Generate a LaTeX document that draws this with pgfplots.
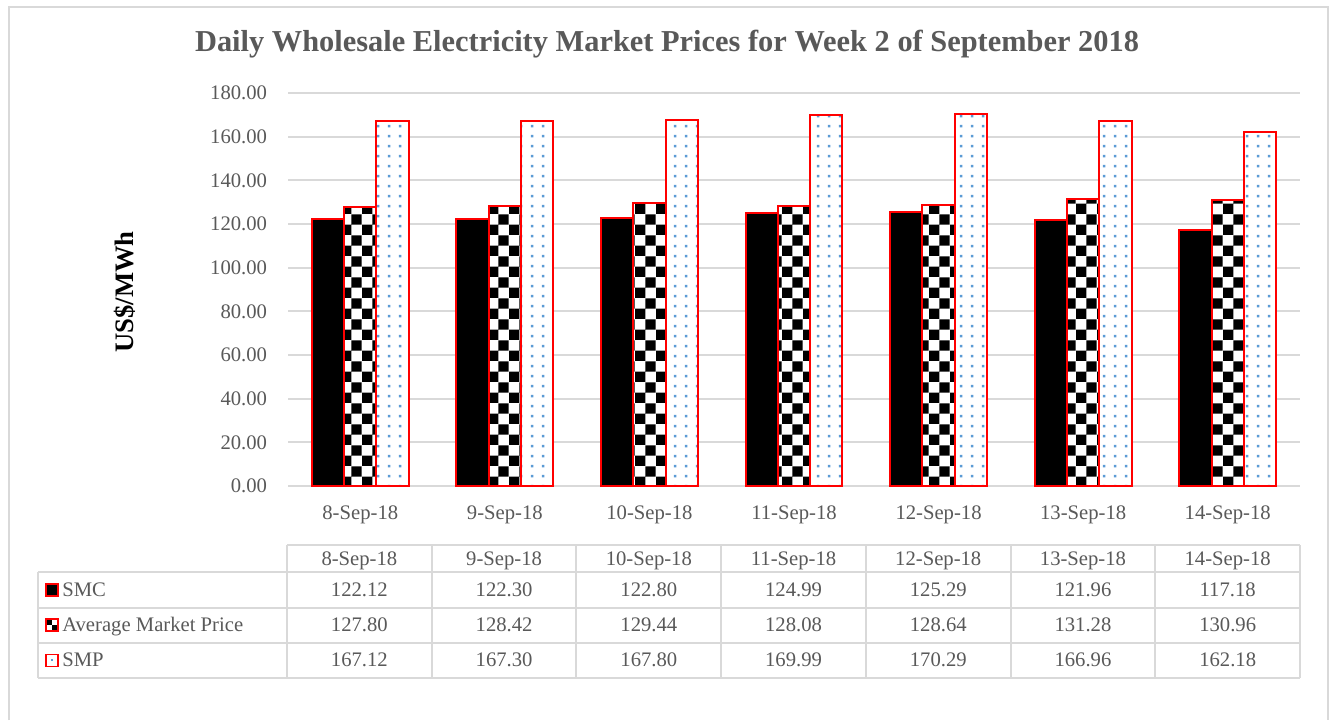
\documentclass[border=0pt]{standalone}
\usepackage{pgfplots}
\pgfplotsset{compat=1.18}
\usetikzlibrary{patterns}
\usepackage{fontspec}
\setmainfont{Liberation Serif}
\definecolor{txt}{HTML}{595959}
\definecolor{gridc}{HTML}{D9D9D9}
\definecolor{dotc}{HTML}{5B9BD5}
\pgfdeclarepatternformonly{checker}{\pgfqpoint{0pt}{0pt}}{\pgfqpoint{16pt}{16pt}}{\pgfqpoint{16pt}{16pt}}{%
 \pgfpathrectangle{\pgfqpoint{0pt}{0pt}}{\pgfqpoint{8pt}{8pt}}%
 \pgfpathrectangle{\pgfqpoint{8pt}{8pt}}{\pgfqpoint{8pt}{8pt}}%
 \pgfusepath{fill}}
\pgfdeclarepatternformonly{sdots}{\pgfqpoint{0pt}{0pt}}{\pgfqpoint{8pt}{7.5pt}}{\pgfqpoint{8pt}{7.5pt}}{%
 \pgfpathrectangle{\pgfqpoint{3pt}{3pt}}{\pgfqpoint{2pt}{2pt}}\pgfusepath{fill}}
\pgfdeclarepatternformonly{minichecker}{\pgfqpoint{0pt}{0pt}}{\pgfqpoint{8pt}{8pt}}{\pgfqpoint{8pt}{8pt}}{%
 \pgfpathrectangle{\pgfqpoint{0pt}{0pt}}{\pgfqpoint{4pt}{4pt}}%
 \pgfpathrectangle{\pgfqpoint{4pt}{4pt}}{\pgfqpoint{4pt}{4pt}}%
 \pgfusepath{fill}}
\begin{document}
\begin{tikzpicture}
\begin{scope}[x=0.75pt,y=-0.75pt]
\path[use as bounding box] (0,0) rectangle (1333,702);
\end{scope}
\begin{axis}[
  at={(216pt,-364.5pt)}, anchor=south west,
  scale only axis, width=759pt, height=294.75pt,
  xmin=-0.5, xmax=6.5, ymin=0, ymax=180,
  ybar=0pt, bar width=24.2pt,
  xtick={0,1,2,3,4,5,6},
  xticklabels={8-Sep-18,9-Sep-18,10-Sep-18,11-Sep-18,12-Sep-18,13-Sep-18,14-Sep-18},
  ytick={0,20,40,60,80,100,120,140,160,180},
  major tick length=0pt,
  axis line style={draw=none},
  ymajorgrids, major grid style={gridc, line width=1.5pt},
  yticklabel style={/pgf/number format/.cd, fixed, fixed zerofill, precision=2, assume math mode=true, /tikz/.cd,
     anchor=east, inner sep=0pt, xshift=-15.5pt, font=\fontsize{15.5}{18}\selectfont, text=txt},
  xticklabel style={anchor=base, inner sep=0pt, yshift=-24.75pt, font=\fontsize{15.5}{18}\selectfont, text=txt},
  clip=false,
]
\addplot[fill=black, draw=red, line width=1.5pt] coordinates
  {(0,122.12) (1,122.30) (2,122.80) (3,124.99) (4,125.29) (5,121.96) (6,117.18)};
\addplot[preaction={fill=white}, pattern=checker, pattern color=black, draw=red, line width=1.5pt] coordinates
  {(0,127.80) (1,128.42) (2,129.44) (3,128.08) (4,128.64) (5,131.28) (6,130.96)};
\addplot[preaction={fill=white}, pattern=sdots, pattern color=dotc, draw=red, line width=1.5pt] coordinates
  {(0,167.12) (1,167.30) (2,167.80) (3,169.99) (4,170.29) (5,166.96) (6,162.18)};
\end{axis}
\begin{scope}[x=0.75pt,y=-0.75pt]
\draw[gridc, line width=1.1pt] (9,720) -- (9,7) -- (1328,7) -- (1328,720);
\node[anchor=base, font=\bfseries\fontsize{22.8}{27}\selectfont, text=txt] at (667,52)
  {Daily Wholesale Electricity Market Prices for Week 2 of September 2018};
\node[anchor=base, rotate=90, font=\bfseries\fontsize{20}{24}\selectfont] at (133,292) {US\$/MWh};
% table grid
\begin{scope}[gridc, line width=1.5pt]
\foreach \k in {0,...,7} \draw (287+\k*144.714,545) -- (287+\k*144.714,678);
\draw (38,572) -- (38,678);
\draw (287,545) -- (1300,545);
\foreach \yy in {572,608,643,678} \draw (38,\yy) -- (1300,\yy);
\end{scope}
\begin{scope}[font=\fontsize{15.5}{18}\selectfont, text=txt]
\foreach \d [count=\i from 0] in {8-Sep-18,9-Sep-18,10-Sep-18,11-Sep-18,12-Sep-18,13-Sep-18,14-Sep-18}
  \node[anchor=base] at (359.4+\i*144.714,565) {\d};
\foreach \v [count=\i from 0] in {122.12,122.30,122.80,124.99,125.29,121.96,117.18}
  \node[anchor=base] at (359.4+\i*144.714,596.5) {\v};
\foreach \v [count=\i from 0] in {127.80,128.42,129.44,128.08,128.64,131.28,130.96}
  \node[anchor=base] at (359.4+\i*144.714,631.5) {\v};
\foreach \v [count=\i from 0] in {167.12,167.30,167.80,169.99,170.29,166.96,162.18}
  \node[anchor=base] at (359.4+\i*144.714,666.5) {\v};
\node[anchor=base west, inner sep=0pt] at (62,596) {SMC};
\node[anchor=base west, inner sep=0pt] at (62,631) {Average Market Price};
\node[anchor=base west, inner sep=0pt] at (62,666.5) {SMP};
\end{scope}
% legend keys
\draw[red, line width=1.2pt, fill=black] (46,584) rectangle (58,596);
\draw[red, line width=1.2pt, fill=white] (46,619) rectangle (58,631);
\fill[black] (47,620) rectangle (52,625);
\fill[black] (52,625) rectangle (57,630);
\draw[red, line width=1.2pt, fill=white] (46,654.5) rectangle (58,666.5);
\fill[dotc] (50.5,659) rectangle (52.5,661);
\end{scope}
\end{tikzpicture}
\end{document}
